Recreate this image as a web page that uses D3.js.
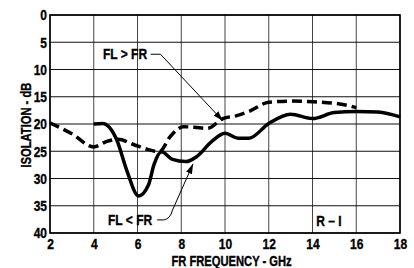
<!DOCTYPE html>
<html>
<head>
<meta charset="utf-8">
<script src="https://cdn.jsdelivr.net/npm/d3@7"></script>
<style>
  html, body { margin: 0; padding: 0; background: #fff; }
  svg text { font-family: "Liberation Sans", Arial, sans-serif; font-weight: bold; fill: #000; stroke: #000; stroke-width: 0.35px; }
</style>
</head>
<body>
<div id="chart"></div>
<script>
// FL > FR (dashed)
const dashedFreq = [2, 3, 4, 4.6, 5.1, 5.9, 6.5, 7.0, 7.5, 8.1, 8.6, 9.2, 9.9, 10.5, 11.1, 12, 13, 14, 15, 15.5, 16];
const dashedDb   = [19.8, 21.8, 24.2, 23.2, 22.8, 23.9, 24.7, 25.1, 22.3, 20.5, 20.6, 20.8, 19.0, 18.5, 17.7, 16.0, 15.8, 15.9, 16.2, 16.5, 17.0];

// FL < FR (solid)
const solidFreq = [4, 4.4, 5.05, 5.5, 6.05, 6.5, 6.75, 7.1, 7.6, 8.2, 8.7, 9.4, 10, 10.6, 11.1, 12, 13, 14, 15, 16, 17, 18];
const solidDb   = [20, 19.9, 22.9, 28.4, 33.2, 31.2, 27.5, 25.1, 26.5, 26.9, 26.0, 23.2, 21.7, 22.6, 22.6, 19.9, 18.2, 19.0, 17.9, 17.7, 17.8, 18.7];

const xTicks = [2, 4, 6, 8, 10, 12, 14, 16, 18];
const yTicks = [0, 5, 10, 15, 20, 25, 30, 35, 40];

const W = 414, H = 268;
const margin = { top: 15, right: 14, bottom: 35, left: 50 };
const width  = W - margin.left - margin.right;
const height = H - margin.top - margin.bottom;
const NARROW = 0.8;

const svg = d3.select('#chart')
    .append('svg')
    .attr('width', W)
    .attr('height', H);

const g = svg.append('g')
    .attr('transform', 'translate(' + margin.left + ',' + margin.top + ')');

const x = d3.scaleLinear().domain([2, 18]).range([0, width]);
const y = d3.scaleLinear().domain([0, 40]).range([0, height]);

// condensed label placed at (px, py)
function label(parent, px, py, txt, size, rotate) {
    return parent.append('text')
        .attr('transform', 'translate(' + px + ',' + py + ')' + (rotate ? ' rotate(-90)' : '') + ' scale(' + NARROW + ',1)')
        .attr('text-anchor', 'middle')
        .style('font-size', size + 'px')
        .text(txt);
}

// grid
g.selectAll('.vgrid')
    .data(xTicks)
    .enter()
    .append('line')
    .attr('x1', function(d) { return x(d); })
    .attr('x2', function(d) { return x(d); })
    .attr('y1', 0)
    .attr('y2', height)
    .attr('stroke', '#444')
    .attr('stroke-width', 1);

g.selectAll('.hgrid')
    .data(yTicks)
    .enter()
    .append('line')
    .attr('x1', 0)
    .attr('x2', width)
    .attr('y1', function(d) { return y(d); })
    .attr('y2', function(d) { return y(d); })
    .attr('stroke', '#111')
    .attr('stroke-width', 1.2);

g.append('rect')
    .attr('width', width)
    .attr('height', height)
    .attr('fill', 'none')
    .attr('stroke', '#000')
    .attr('stroke-width', 1.6);

// axes
const xAxis = g.append('g')
    .attr('transform', 'translate(0,' + height + ')')
    .call(d3.axisBottom(x).tickValues(xTicks).tickSize(0).tickPadding(5));
xAxis.select('.domain').remove();
xAxis.selectAll('text')
    .style('font-size', '15px')
    .attr('transform', 'scale(' + NARROW + ',1)');

const yAxis = g.append('g')
    .call(d3.axisLeft(y).tickValues(yTicks).tickSize(0));
yAxis.select('.domain').remove();
yAxis.selectAll('text')
    .style('font-size', '15px')
    .attr('x', -3 / NARROW)
    .attr('transform', 'scale(' + NARROW + ',1)');

// curves
const line = d3.line()
    .x(function(d) { return x(d[0]); })
    .y(function(d) { return y(d[1]); })
    .curve(d3.curveMonotoneX);

g.append('path')
    .datum(d3.zip(dashedFreq, dashedDb))
    .attr('fill', 'none')
    .attr('stroke', '#000')
    .attr('stroke-width', 3.5)
    .attr('stroke-dasharray', '10,5')
    .attr('d', line);

g.append('path')
    .datum(d3.zip(solidFreq, solidDb))
    .attr('fill', 'none')
    .attr('stroke', '#000')
    .attr('stroke-width', 3.5)
    .attr('d', line);

// annotations
svg.append('defs').append('marker')
    .attr('id', 'arrow')
    .attr('viewBox', '0 0 10 10')
    .attr('refX', 10)
    .attr('refY', 5)
    .attr('markerWidth', 10)
    .attr('markerHeight', 10)
    .attr('markerUnits', 'userSpaceOnUse')
    .attr('orient', 'auto')
    .append('path')
    .attr('d', 'M0,1.8 L10,5 L0,8.2 Z')
    .attr('fill', '#000');

label(g, x(5.43), y(8.1), 'FL > FR', 15);

g.append('path')
    .attr('d', 'M' + x(6.6) + ',' + y(7.2) + ' L' + x(7.05) + ',' + y(7.2) + ' L' + x(9.9) + ',' + y(19.4))
    .attr('fill', 'none')
    .attr('stroke', '#000')
    .attr('stroke-width', 1)
    .attr('marker-end', 'url(#arrow)');

label(g, x(5.66), y(38.5), 'FL < FR', 15);

g.append('path')
    .attr('d', 'M' + x(6.9) + ',' + y(37.6) + ' L' + x(7.2) + ',' + y(37.6) + ' Q' + x(7.5) + ',' + y(37.4) + ' ' + x(7.6) + ',' + y(35.8) + ' L' + x(8.54) + ',' + y(27.3))
    .attr('fill', 'none')
    .attr('stroke', '#000')
    .attr('stroke-width', 1)
    .attr('marker-end', 'url(#arrow)');

label(g, x(14.75), y(38.8), 'R \u2013 I', 15);

// axis titles
label(svg, margin.left + x(10.3), 266, 'FR FREQUENCY - GHz', 14);
label(svg, 31, margin.top + y(20.2), 'ISOLATION - dB', 14, true);
</script>
</body>
</html>
